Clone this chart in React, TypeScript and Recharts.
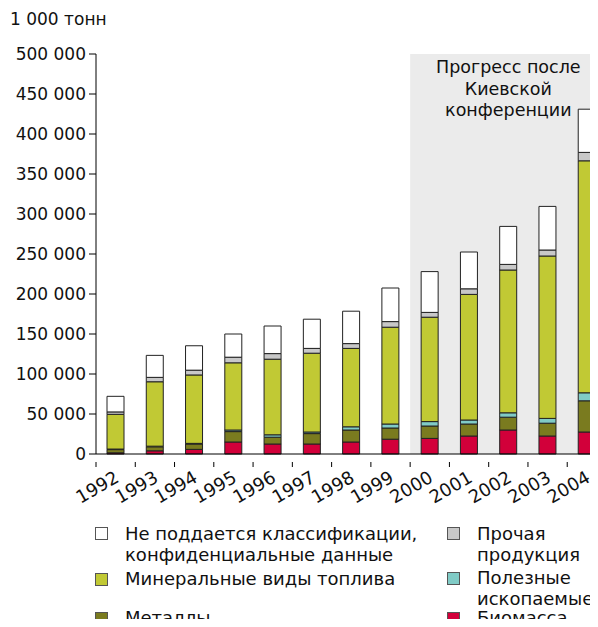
import { BarChart, Bar, XAxis, YAxis, ReferenceArea } from 'recharts';

const years = ['1992', '1993', '1994', '1995', '1996', '1997', '1998', '1999', '2000', '2001', '2002', '2003', '2004'];
const biomass = [1500, 4000, 5800, 15000, 12500, 12500, 15000, 18500, 19500, 22500, 30000, 22500, 27500];
const metals = [4000, 5000, 6700, 13000, 8500, 13000, 15000, 14000, 15500, 15000, 16000, 16000, 39000];
const minerals = [700, 800, 800, 2000, 3000, 2000, 4000, 5000, 5500, 5000, 5500, 6000, 10000];
const fuel = [43400, 80500, 85500, 84000, 94500, 98500, 98000, 121000, 130500, 157000, 178500, 203000, 290000];
const other = [3000, 5500, 6000, 7000, 7000, 6000, 6000, 7000, 6000, 7000, 7000, 7500, 10500];
const unclassified = [19500, 27500, 30500, 29000, 34500, 36500, 40500, 42000, 51000, 46000, 47500, 54500, 54000];
const yTicks = [0, 50000, 100000, 150000, 200000, 250000, 300000, 350000, 400000, 450000, 500000];

const data = years.map((year, i) => ({
  year,
  biomass: biomass[i],
  metals: metals[i],
  minerals: minerals[i],
  fuel: fuel[i],
  other: other[i],
  unclassified: unclassified[i],
}));

const FONT = '"DejaVu Sans", Verdana, sans-serif';
const CHART_W = 620;
const MARGIN = { top: 54, right: 13.5, bottom: 113, left: 0 };
const Y_AXIS_W = 96;
const BAND = (CHART_W - MARGIN.left - MARGIN.right - Y_AXIS_W) / years.length;

const series = [
  { key: 'biomass', color: '#d2003a' },
  { key: 'metals', color: '#7a7b1f' },
  { key: 'minerals', color: '#80cbc6' },
  { key: 'fuel', color: '#c1c934' },
  { key: 'other', color: '#c8c8c8' },
  { key: 'unclassified', color: '#ffffff' },
];

const formatThousands = (v: number) => String(v).replace(/\B(?=(\d{3})+(?!\d))/g, ' ');

// ticks sit on the category boundaries, labels rotated under the bar
function YearTick({ x, y, payload }: any) {
  return (
    <g transform={`translate(${x},${y})`}>
      <line x1={-BAND / 2} y1={0} x2={-BAND / 2} y2={5} stroke="#000" />
      <text
        x={4.5}
        y={19}
        transform="rotate(-30 4.5 19)"
        textAnchor="end"
        fontSize={18}
        fontFamily={FONT}
        fill="#111"
      >
        {payload.value}
      </text>
    </g>
  );
}

function AreaLabel({ viewBox }: any) {
  if (!viewBox) return null;
  const cx = viewBox.x + viewBox.width / 2;
  const lines = ['Прогресс после', 'Киевской', 'конференции'];
  return (
    <text textAnchor="middle" fontSize={17.5} fontFamily={FONT} fill="#111">
      {lines.map((l, i) => (
        <tspan key={l} x={cx} y={viewBox.y + 19 + i * 21.5}>
          {l}
        </tspan>
      ))}
    </text>
  );
}

const legendLeft = [
  { color: '#ffffff', lines: ['Не поддается классификации,', 'конфиденциальные данные'], top: 522.5, lh: 21 },
  { color: '#c1c934', lines: ['Минеральные виды топлива'], top: 568, lh: 21 },
  { color: '#7a7b1f', lines: ['Металлы'], top: 608, lh: 19 },
];
const legendRight = [
  { color: '#c8c8c8', lines: ['Прочая', 'продукция'], top: 522.5, lh: 21 },
  { color: '#80cbc6', lines: ['Полезные', 'ископаемые'], top: 568, lh: 20.5 },
  { color: '#d2003a', lines: ['Биомасса'], top: 608, lh: 19 },
];

function LegendItem({ color, lines, top, left, lh }: any) {
  return (
    <div style={{ position: 'absolute', left, top, display: 'flex', fontFamily: FONT, fontSize: 18, lineHeight: `${lh}px`, color: '#111' }}>
      <div style={{ width: 11, height: 11, background: color, border: '1px solid #555', marginTop: lh / 2 - 6, marginRight: 17 }} />
      <div>
        {lines.map((l: string) => (
          <div key={l} style={{ whiteSpace: 'nowrap' }}>{l}</div>
        ))}
      </div>
    </div>
  );
}

export default function App() {
  return (
    <div style={{ position: 'relative', width: 598, height: 627, margin: -8, overflow: 'hidden', background: '#fff' }}>
      <div style={{ position: 'absolute', left: 10, top: 9, fontFamily: FONT, fontSize: 17, color: '#111' }}>1 000 тонн</div>
      <BarChart width={CHART_W} height={627} data={data} margin={MARGIN} barSize={17}>
        <XAxis
          dataKey="year"
          interval={0}
          height={60}
          axisLine={{ stroke: '#000' }}
          tickLine={false}
          tick={<YearTick />}
        />
        <YAxis
          width={Y_AXIS_W}
          domain={[0, 500000]}
          ticks={yTicks}
          tickFormatter={formatThousands}
          axisLine={{ stroke: '#000' }}
          tickLine={{ stroke: '#000' }}
          tickSize={7}
          tickMargin={3}
          tick={{ fill: '#111', fontSize: 17, fontFamily: FONT }}
        />
        <ReferenceArea
          x1="2000"
          x2="2004"
          y1={0}
          y2={500000}
          ifOverflow="visible"
          fill="#ebebeb"
          fillOpacity={1}
          stroke="none"
          label={<AreaLabel />}
        />
        {series.map((s) => (
          <Bar key={s.key} dataKey={s.key} stackId="a" fill={s.color} stroke="#222" strokeWidth={1} isAnimationActive={false} />
        ))}
      </BarChart>
      {legendLeft.map((it) => (
        <LegendItem key={it.lines[0]} {...it} left={95} />
      ))}
      {legendRight.map((it) => (
        <LegendItem key={it.lines[0]} {...it} left={447} />
      ))}
    </div>
  );
}
